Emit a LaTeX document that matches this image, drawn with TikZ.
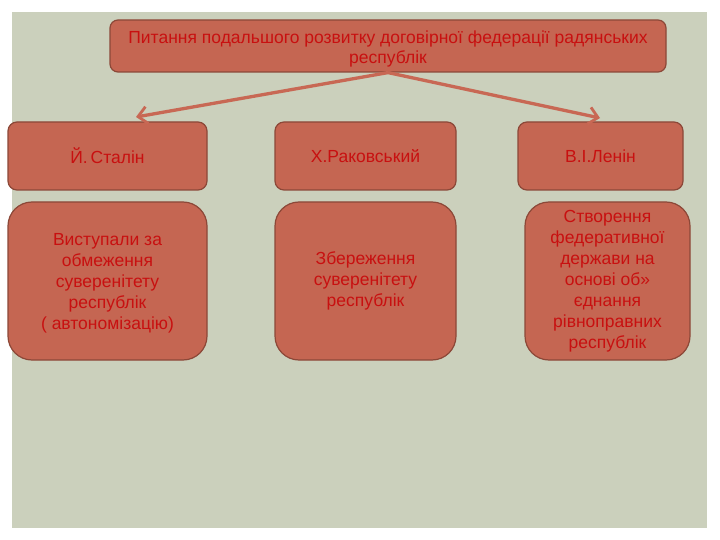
\documentclass[tikz,border=0pt]{standalone}
\usepackage{fontspec}
\setmainfont{Liberation Sans}
\usetikzlibrary{arrows.meta}
\definecolor{bgc}{RGB}{203,208,188}
\definecolor{boxfill}{RGB}{197,102,82}
\definecolor{boxline}{RGB}{140,72,56}
\definecolor{txt}{RGB}{200,16,16}
\definecolor{arr}{RGB}{200,104,84}
\tikzset{
  box/.style={draw=boxline, line width=1.2pt, fill=boxfill, text=txt, align=center, inner sep=2pt, font=\fontsize{17.5}{19.5}\selectfont},
  head/.style={box, rounded corners=9pt, minimum height=68pt},
  desc/.style={box, rounded corners=24pt, minimum height=158pt, font=\fontsize{17.5}{21}\selectfont},
  conn/.style={draw=arr, line width=3.3pt, -{Straight Barb[length=9pt,width=17pt,line width=2.8pt]}}
}
\begin{document}
\begin{tikzpicture}[x=1pt,y=-1pt]
\useasboundingbox (0,0) rectangle (720,540);
\fill[white] (0,0) rectangle (720,540);
\fill[bgc] (12,12) rectangle (707,528);
\node[box, rounded corners=8pt, minimum width=556pt, minimum height=52pt] (top) at (388,46) {\rule{0pt}{19pt}Питання подальшого розвитку договірної федерації радянських\\республік};
\node[head, minimum width=199pt] (stalin) at (107.5,156) {Й.\,Сталін};
\node[head, minimum width=181pt] (rak) at (365.5,156) {Х.Раковський};
\node[head, minimum width=165pt] (lenin) at (600.5,156) {В.І.Ленін};
\node[desc, minimum width=199pt] (sd) at (107.5,281) {\rule{0pt}{17pt}Виступали за\\обмеження\\суверенітету\\республік\\( автономізацію)};
\node[desc, minimum width=181pt] (rd) at (365.5,281) {Збереження\\суверенітету\\республік};
\node[desc, minimum width=165pt] (ld) at (607.5,281) {Створення\\федеративної\\держави на\\основі об»\\єднання\\рівноправних\\республік};
\coordinate (la) at (136,117);
\coordinate (ra) at (600,118);
\draw[conn] (top.south) -- (la);
\draw[conn] (top.south) -- (ra);
\end{tikzpicture}
\end{document}
